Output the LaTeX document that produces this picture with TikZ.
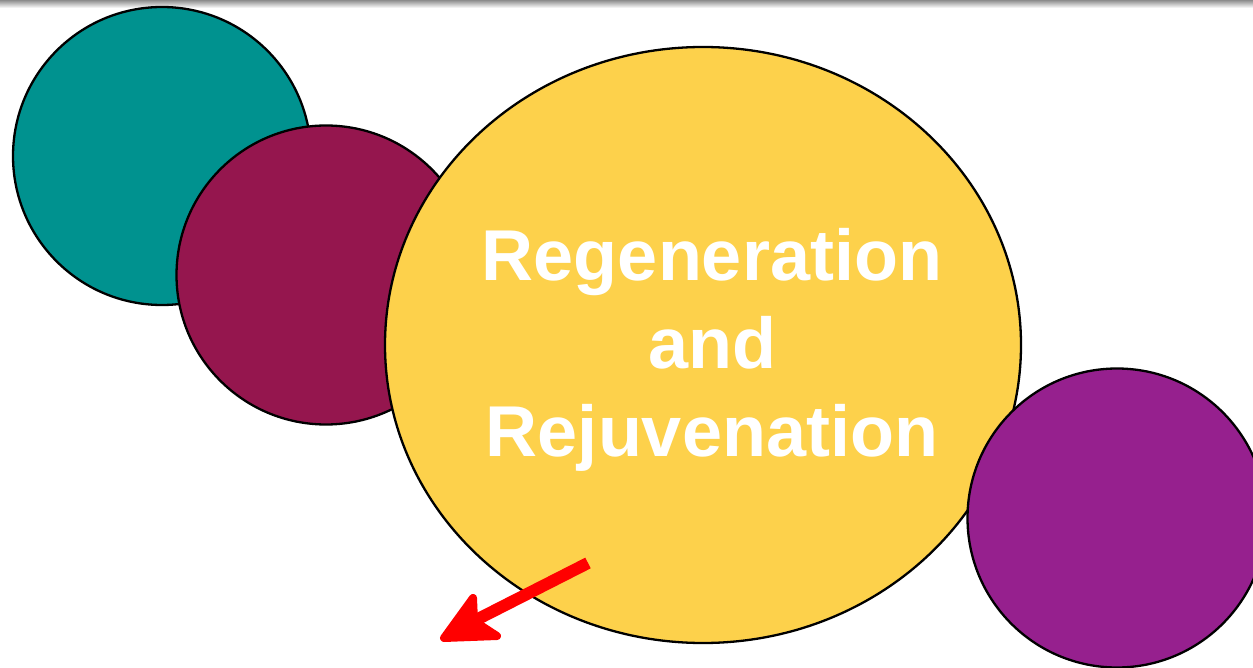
\documentclass[tikz,border=0pt]{standalone}
\usepackage{fontspec}
\setmainfont{Liberation Sans}
\usetikzlibrary{shapes.geometric,arrows.meta}
\definecolor{cteal}{RGB}{0,146,143}
\definecolor{cmaroon}{RGB}{149,22,78}
\definecolor{cyellow}{RGB}{253,209,75}
\definecolor{cpurple}{RGB}{150,32,142}
\definecolor{cred}{RGB}{255,0,0}
\tikzset{
  blob/.style={circle, draw=black, line width=2.3pt, inner sep=0pt, minimum size=#1},
  bigblob/.style={ellipse, draw=black, line width=2.3pt, inner sep=0pt, fill=cyellow},
  bigtext/.style={text=white, font=\fontsize{72}{88}\selectfont\bfseries, align=center, inner sep=0pt},
  redshaft/.style={draw=cred, line width=12pt},
  redhead/.style={draw=cred, fill=cred, line width=8pt, line join=round}
}
\begin{document}
\begin{tikzpicture}[x=1pt,y=-1pt]
\useasboundingbox (0,0) rectangle (1253,668);
\shade[top color=black!45, bottom color=white] (0,0) rectangle (1253,8);
\node[blob=298pt, fill=cteal] (teal) at (162,156) {};
\node[blob=299pt, fill=cmaroon] (maroon) at (326,275) {};
\node[bigblob, minimum width=636pt, minimum height=596pt] (yellow) at (703,345) {};
\node[blob=299pt, fill=cpurple] (purple) at (1117,518) {};
\node[bigtext] (label) at (712,350) {Regeneration\\and\\Rejuvenation};
\coordinate (astart) at (588,563);
\coordinate (ainner) at (474,621);
\coordinate (atip) at (444,638);
\coordinate (abarbA) at (473,598);
\coordinate (abarbB) at (497,636);
\draw[redshaft] (astart) -- (ainner);
\draw[redhead] (atip) -- (abarbA) -- (ainner) -- (abarbB) -- cycle;
\end{tikzpicture}
\end{document}
